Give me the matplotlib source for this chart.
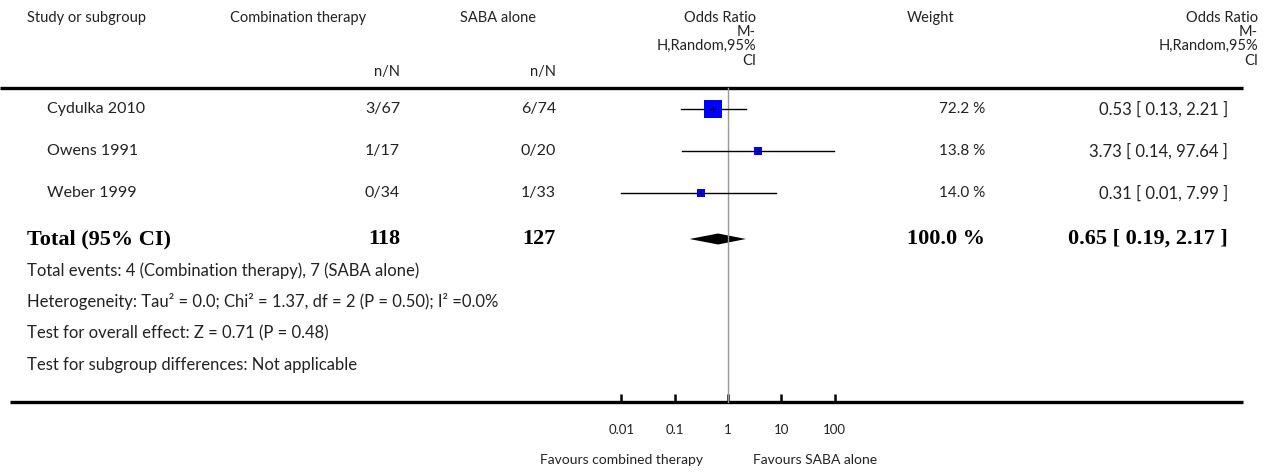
import numpy as np
import matplotlib
matplotlib.use("Agg")
import matplotlib.pyplot as plt

# data
studies = ["Cydulka 2010", "Owens 1991", "Weber 1999"]
combo_nN = ["3/67", "1/17", "0/34"]
saba_nN = ["6/74", "0/20", "1/33"]
or_est = [0.53, 3.73, 0.31]
or_lo = [0.13, 0.14, 0.01]
or_hi = [2.21, 97.64, 7.99]
weights = [72.2, 13.8, 14.0]

total_combo = 118
total_saba = 127
total_est, total_lo, total_hi = 0.65, 0.19, 2.17
total_weight = 100.0

footnotes = [
    "Total events: 4 (Combination therapy), 7 (SABA alone)",
    "Heterogeneity: Tau\u00b2 = 0.0; Chi\u00b2 = 1.37, df = 2 (P = 0.50); I\u00b2 =0.0%",
    "Test for overall effect: Z = 0.71 (P = 0.48)",
    "Test for subgroup differences: Not applicable",
]
tick_vals = [0.01, 0.1, 1, 10, 100]
tick_labels = ["0.01", "0.1", "1", "10", "100"]

W, H = 1271, 472
SANS = ["Lato", "DejaVu Sans"]
SERIF = ["Liberation Serif", "DejaVu Serif"]
fs = 10.5

fig = plt.figure(figsize=(W / 100, H / 100), dpi=100)
ax = fig.add_axes([0, 0, 1, 1])
ax.set_xlim(0, W)
ax.set_ylim(H, 0)
ax.axis("off")

def t(x, y, s, ha="left", size=fs, bold=False, **kw):
    ax.text(x, y, s, ha=ha, va="center", fontsize=size,
            family=SERIF if bold else SANS,
            fontweight="bold" if bold else "normal",
            color="black" if bold else "#222222", **kw)

# header
t(27, 18, "Study or subgroup")
t(298, 18, "Combination therapy", ha="center")
t(400, 72, "n/N", ha="right")
t(498, 18, "SABA alone", ha="center")
t(556, 72, "n/N", ha="right")
for yy, s in zip([18, 32, 46, 61], ["Odds Ratio", "M-", "H,Random,95%", "CI"]):
    t(756, yy, s, ha="right")
    t(1258, yy, s, ha="right")
t(931, 18, "Weight", ha="center")

ax.plot([0, 1243], [88, 88], color="black", lw=2.4, solid_capstyle="butt")
ax.plot([10, 1243], [402, 402], color="black", lw=2.4, solid_capstyle="butt")

row_y = [109, 151, 193]
rs = 11.5
for i, y in enumerate(row_y):
    t(47, y, studies[i], size=rs)
    t(400, y, combo_nN[i], ha="right", size=rs)
    t(556, y, saba_nN[i], ha="right", size=rs)
    t(985, y, "%.1f %%" % weights[i], ha="right", size=11)
    t(1228, y, "%.2f [ %.2f, %.2f ]" % (or_est[i], or_lo[i], or_hi[i]), ha="right", size=12)

ty = 239
bs = 16
t(27, ty, "Total (95% CI)", size=bs, bold=True)
t(400, ty, str(total_combo), ha="right", size=bs, bold=True)
t(556, ty, str(total_saba), ha="right", size=bs, bold=True)
t(985, ty, "%.1f %%" % total_weight, ha="right", size=bs, bold=True)
t(1228, ty, "%.2f [ %.2f, %.2f ]" % (total_est, total_lo, total_hi), ha="right",
  size=bs, bold=True)

for y, s in zip([271, 302, 333, 365], footnotes):
    t(27, y, s, size=12)

# forest panel (log scale)
x0, x1, px_one, px_dec = 580, 900, 728, 53.3
fx = fig.add_axes([x0 / W, 0, (x1 - x0) / W, 1])
fx.set_xscale("log")
fx.set_xlim(10 ** ((x0 - px_one) / px_dec), 10 ** ((x1 - px_one) / px_dec))
fx.set_ylim(H, 0)
fx.patch.set_alpha(0)
for sp in ["top", "left", "right"]:
    fx.spines[sp].set_visible(False)
fx.spines["bottom"].set_position(("data", 402))
fx.spines["bottom"].set_visible(False)
fx.set_yticks([])
fx.set_xticks(tick_vals)
fx.set_xticklabels(tick_labels, family=SANS, fontsize=9.5, color="#222222")
fx.xaxis.set_minor_locator(matplotlib.ticker.NullLocator())
fx.tick_params(axis="x", direction="in", length=6, width=1.8, pad=16)

fx.plot([1, 1], [88, 402], color="#999999", lw=1)

for i, y in enumerate(row_y):
    fx.plot([or_lo[i], or_hi[i]], [y, y], color="black", lw=1)
    side = 1.6 * np.sqrt(weights[i])
    fx.plot(or_est[i], y, marker="s", ms=side, color="#0000ff", mec="#0000ff", mew=0)
    fx.plot(or_est[i], y, marker="+", ms=4, color="black", mew=0.6)

fx.fill([total_lo, total_est, total_hi, total_est], [ty, ty - 5.5, ty, ty + 5.5],
        color="black", lw=0)

t(703, 460, "Favours combined therapy", ha="right", size=10)
t(753, 460, "Favours SABA alone", size=10)

fig.savefig("out.png", dpi=100)
